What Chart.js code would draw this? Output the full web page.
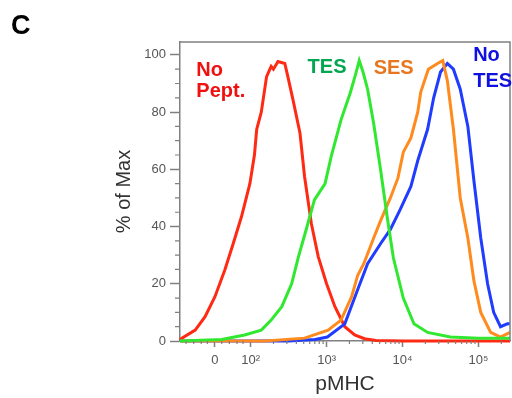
<!DOCTYPE html>
<html>
<head>
<meta charset="utf-8">
<script src="https://cdn.jsdelivr.net/npm/chart.js@4/dist/chart.umd.min.js"></script>
<style>
  body { margin: 0; background: #fff; }
  canvas { display: block; }
</style>
</head>
<body>
<canvas id="myChart" width="512" height="398"></canvas>
<script>
// x values are in display units of the biexponential axis (2 = 10^2, 3 = 10^3 ...)
const xTickValues = [1.53, 2, 3, 4, 5]
const xTickLabels = ['0', '10²', '10³', '10⁴', '10⁵']
const yTickValues = [0, 20, 40, 60, 80, 100]

const noPeptX = [1.07, 1.09, 1.27, 1.40, 1.53, 1.66, 1.77, 1.88, 1.99, 2.05, 2.08, 2.14, 2.21, 2.27, 2.30, 2.36, 2.45, 2.49, 2.56, 2.65, 2.71, 2.80, 2.89, 3.0, 3.11, 3.24, 3.37, 3.5, 3.65, 4.0, 4.5, 5.0, 5.415]
const noPeptY = [0.3, 0.9, 3.8, 8.5, 15.5, 24.8, 34, 43.5, 55, 65, 74, 80, 92.4, 96, 95, 97.7, 97, 92.4, 84, 72.6, 57.5, 41, 29.5, 20, 12, 5, 2.1, 0.8, 0.2, 0, 0, 0, 0]

const tesX = [1.07, 1.62, 1.92, 2.14, 2.27, 2.41, 2.54, 2.63, 2.73, 2.84, 2.98, 3.06, 3.19, 3.31, 3.38, 3.43, 3.48, 3.54, 3.62, 3.71, 3.8, 3.88, 4.01, 4.15, 4.33, 4.63, 5.0, 5.415]
const tesY = [0, 0.5, 2.1, 3.8, 7.3, 12, 20, 29.5, 38.8, 49.3, 55, 64.4, 77.3, 86.6, 93, 98, 94, 88, 76, 60, 43, 29, 15, 6, 3, 1.4, 1, 1]

const sesX = [1.07, 2.2, 2.71, 3.02, 3.19, 3.33, 3.41, 3.49, 3.62, 3.71, 3.84, 3.94, 4.01, 4.11, 4.2, 4.24, 4.34, 4.46, 4.53, 4.59, 4.67, 4.76, 4.86, 4.94, 5.03, 5.16, 5.29, 5.415]
const sesY = [0, 0, 1, 3.8, 7.3, 15.5, 23, 27, 36, 42, 50, 57, 66, 71, 80, 87, 95, 97, 98, 91, 74, 50, 36, 21, 10, 3, 1.4, 3]

const noTesX = [1.07, 2.5, 2.85, 3.01, 3.24, 3.41, 3.54, 3.71, 3.84, 3.97, 4.11, 4.2, 4.33, 4.41, 4.5, 4.59, 4.67, 4.76, 4.86, 4.94, 5.03, 5.12, 5.2, 5.29, 5.38, 5.415]
const noTesY = [0, 0, 0.5, 1.4, 6, 18, 27, 34, 39, 46, 54, 63, 74, 85, 94, 97, 95, 88, 75, 56, 36, 20, 10, 5, 6, 6]

const FONT = '"Liberation Sans", Arial, sans-serif'
const AXIS_GREY = '#808080'

// text labels put on the plot, anchored in data units
const notes = [
    { lines: ['No', 'Pept.'], color: '#f01010', x: 1.285, y: 97.6, step: 21 },
    { lines: ['TES'], color: '#00a650', x: 2.75, y: 98.6, step: 21 },
    { lines: ['SES'], color: '#e8761e', x: 3.62, y: 98.3, step: 21 },
    { lines: ['No', 'TES'], color: '#1010e0', x: 4.93, y: 102.8, step: 26 }
]

function points(xs, ys) {
    return xs.map((x, i) => ({ x: x, y: ys[i] }))
}

function line(label, xs, ys, color) {
    return {
        label: label,
        data: points(xs, ys),
        borderColor: color,
        backgroundColor: color,
        borderWidth: 3,
        pointRadius: 0,
        tension: 0,
        clip: false
    }
}

// minor ticks, the frame, the panel letter and the curve names
const extras = {
    id: 'extras',
    afterDraw(chart) {
        const ctx = chart.ctx
        const area = chart.chartArea
        const xs = chart.scales.x
        const ys = chart.scales.y
        ctx.save()
        ctx.strokeStyle = AXIS_GREY
        ctx.lineWidth = 1.5
        ctx.beginPath()
        ctx.moveTo(area.left, area.top)
        ctx.lineTo(area.right, area.top)
        ctx.lineTo(area.right, area.bottom)
        ctx.stroke()

        ctx.lineWidth = 1.2
        ctx.beginPath()
        for (let v = 5; v < 100; v += 5) {
            if (v % 20 == 0) continue
            let py = ys.getPixelForValue(v)
            ctx.moveTo(area.left - 5, py)
            ctx.lineTo(area.left, py)
        }
        let minorX = [1.15, 1.25, 1.35, 1.43, 1.62, 1.72, 1.82, 1.9]
        for (let d = 2; d <= 5; d++) {
            for (let k = 2; k <= 9; k++) {
                let v = d + Math.log10(k)
                if (v < xs.max) minorX.push(v)
            }
        }
        minorX.forEach(v => {
            let px = xs.getPixelForValue(v)
            ctx.moveTo(px, area.bottom)
            ctx.lineTo(px, area.bottom + 3)
        })
        ctx.stroke()

        ctx.fillStyle = '#000'
        ctx.font = 'bold 27px ' + FONT
        ctx.textBaseline = 'alphabetic'
        ctx.fillText('C', 11, 34)

        ctx.font = 'bold 20px ' + FONT
        ctx.textBaseline = 'top'
        notes.forEach(n => {
            ctx.fillStyle = n.color
            let px = xs.getPixelForValue(n.x)
            let py = ys.getPixelForValue(n.y)
            n.lines.forEach((t, i) => ctx.fillText(t, px, py + i * n.step - 1))
        })
        ctx.restore()
    }
}

const config = {
    type: 'line',
    data: {
        datasets: [
            line('TES', tesX, tesY, '#30e830'),
            line('SES', sesX, sesY, '#ff8a1e'),
            line('No TES', noTesX, noTesY, '#1f3cff'),
            line('No Pept.', noPeptX, noPeptY, '#ff2a14')
        ]
    },
    options: {
        responsive: false,
        animation: false,
        layout: { padding: { left: 110, top: 42, right: 2, bottom: 0 } },
        plugins: { legend: { display: false }, tooltip: { enabled: false } },
        scales: {
            x: {
                type: 'linear',
                min: 1.07,
                max: 5.415,
                afterBuildTicks: scale => { scale.ticks = xTickValues.map(v => ({ value: v })) },
                afterFit: scale => { scale.height = 57 },
                ticks: {
                    autoSkip: false,
                    maxRotation: 0,
                    padding: 6,
                    color: '#555',
                    font: { family: FONT, size: 13 },
                    callback: (v, i) => xTickLabels[i]
                },
                grid: { drawOnChartArea: false, tickLength: 6, tickColor: AXIS_GREY, tickWidth: 1.5 },
                border: { color: AXIS_GREY, width: 1.5 },
                title: {
                    display: true,
                    text: 'pMHC',
                    color: '#333',
                    font: { family: FONT, size: 21 },
                    padding: { top: 0, bottom: 1 }
                }
            },
            y: {
                min: 0,
                max: 104.5,
                afterBuildTicks: scale => { scale.ticks = yTickValues.map(v => ({ value: v })) },
                afterFit: scale => { scale.width = 70 },
                ticks: {
                    padding: 4,
                    color: '#555',
                    font: { family: FONT, size: 13 }
                },
                grid: { drawOnChartArea: false, tickLength: 10, tickColor: AXIS_GREY, tickWidth: 1.5 },
                border: { color: AXIS_GREY, width: 1.5 },
                title: {
                    display: true,
                    text: '% of Max',
                    color: '#333',
                    font: { family: FONT, size: 20 },
                    padding: { top: 2, bottom: 0 }
                }
            }
        }
    },
    plugins: [extras]
}

let myChart = new Chart(document.getElementById('myChart'), config)
</script>
</body>
</html>
